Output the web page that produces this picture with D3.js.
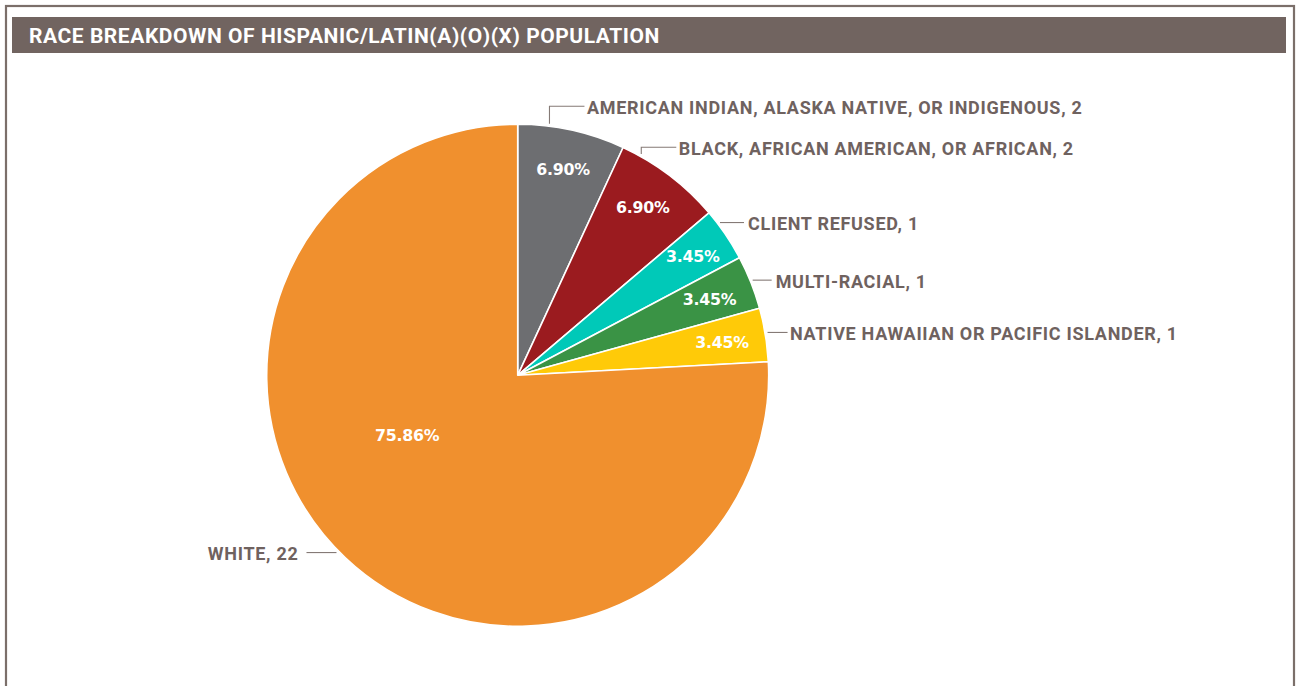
<!DOCTYPE html>
<html>
<head>
<meta charset="utf-8">
<script src="https://cdn.jsdelivr.net/npm/d3@7"></script>
<style>
  html, body { margin: 0; padding: 0; background: #ffffff; }
  svg { display: block; }
</style>
</head>
<body>
<svg id="chart" width="1297" height="686"></svg>
<script>
// ---- data ----
const chartTitle = "RACE BREAKDOWN OF HISPANIC/LATIN(A)(O)(X) POPULATION";
const categories = [
  "AMERICAN INDIAN, ALASKA NATIVE, OR INDIGENOUS",
  "BLACK, AFRICAN AMERICAN, OR AFRICAN",
  "CLIENT REFUSED",
  "MULTI-RACIAL",
  "NATIVE HAWAIIAN OR PACIFIC ISLANDER",
  "WHITE"
];
const counts = [2, 2, 1, 1, 1, 22];

// ---- styling ----
const sliceColors = ["#6d6e71", "#9b1b1f", "#00c9b8", "#3a9345", "#ffca08", "#f0902e"];
const textColor = "#6f625f";
const frameColor = "#7b6f6a";
const bannerColor = "#716460";
const leaderColor = "#857a76";

// callout placement: where on the slice the leader starts (fraction of the slice's sweep),
// how far it rises, and how long the horizontal run is
const calloutLayout = [
  { frac: 0.29,  lift: 17.6, run: 35, gap: 2.5 },
  { frac: 0.175, lift: 6.7,  run: 35, gap: 2.5 },
  { frac: 0.265, lift: 0,    run: 24, gap: 4 },
  { frac: 0.474, lift: 0,    run: 19, gap: 4 },
  { frac: 0.466, lift: 0,    run: 20, gap: 2.5 },
  { frac: 0.508, lift: 0,    run: 30, gap: 8 }
];
// percentage labels: radius as share of R, plus angular nudge (radians)
const pctLayout = [
  { r: 0.84, da: 0 }, { r: 0.835, da: -0.01 }, { r: 0.843, da: 0 },
  { r: 0.823, da: 0 }, { r: 0.825, da: 0 }, { r: 0.5, da: 0.32 }
];

const W = 1297, H = 686;
const cx = 517.7, cy = 375.3, R = 251;

const svg = d3.select("#chart");

// outer frame (open at the bottom edge of the view)
svg.append("rect")
  .attr("x", 6).attr("y", 6)
  .attr("width", 1288).attr("height", 720)
  .attr("fill", "none")
  .attr("stroke", frameColor)
  .attr("stroke-width", 2.2);

// title banner
svg.append("rect")
  .attr("x", 12).attr("y", 17)
  .attr("width", 1274).attr("height", 36)
  .attr("fill", bannerColor);

svg.append("text")
  .attr("x", 29).attr("y", 42.5)
  .attr("fill", "#ffffff")
  .attr("font-family", "Roboto, 'Liberation Sans', sans-serif")
  .attr("font-weight", 700)
  .attr("font-size", 21)
  .attr("letter-spacing", 0.55)
  .text(chartTitle);

// ---- pie ----
const total = d3.sum(counts);
const pie = d3.pie().sort(null).value(d => d)(counts);
const arc = d3.arc().innerRadius(0).outerRadius(R);
const color = d3.scaleOrdinal().domain(categories).range(sliceColors);
const pctFmt = d3.format(".2%");

const g = svg.append("g").attr("transform", `translate(${cx},${cy})`);

g.selectAll("path.slice")
  .data(pie)
  .join("path")
  .attr("class", "slice")
  .attr("d", arc)
  .attr("fill", (d, i) => color(categories[i]))
  .attr("stroke", "#ffffff")
  .attr("stroke-width", 1.6)
  .attr("stroke-linejoin", "round");

const polar = (a, r) => [r * Math.sin(a), -r * Math.cos(a)];

// percentage labels inside the slices
g.selectAll("text.pct")
  .data(pie)
  .join("text")
  .attr("class", "pct")
  .each(function (d, i) {
    const mid = (d.startAngle + d.endAngle) / 2 + pctLayout[i].da;
    const [x, y] = polar(mid, R * pctLayout[i].r);
    d3.select(this).attr("x", x).attr("y", y + 5.9);
  })
  .attr("text-anchor", "middle")
  .attr("fill", "#ffffff")
  .attr("font-family", "'DejaVu Sans', sans-serif")
  .attr("font-weight", 700)
  .attr("font-size", 15.8)
  .attr("letter-spacing", -0.25)
  .text(d => pctFmt(d.value / total));

// callouts with leader lines
const callouts = g.selectAll("g.callout")
  .data(pie)
  .join("g")
  .attr("class", "callout");

callouts.each(function (d, i) {
  const L = calloutLayout[i];
  const a = d.startAngle + (d.endAngle - d.startAngle) * L.frac;
  const [ax, ay] = polar(a, R + 2.5);
  const right = Math.sin(a) >= 0;
  const ly = ay - L.lift;
  const ex = right ? ax + L.run : ax - L.run;
  const p = d3.path();
  p.moveTo(ax, ay);
  if (L.lift > 0) p.lineTo(ax, ly);
  p.lineTo(ex, ly);
  const sel = d3.select(this);
  sel.append("path")
    .attr("d", p.toString())
    .attr("fill", "none")
    .attr("stroke", leaderColor)
    .attr("stroke-width", 1.1);
  sel.append("text")
    .attr("x", right ? ex + L.gap : ex - L.gap)
    .attr("y", ly + 7.6)
    .attr("text-anchor", right ? "start" : "end")
    .attr("fill", textColor)
    .attr("font-family", "Roboto, 'Liberation Sans', sans-serif")
    .attr("font-weight", 700)
    .attr("font-size", 18)
    .attr("letter-spacing", 0.7)
    .text(`${categories[i]}, ${d.value}`);
});
</script>
</body>
</html>
